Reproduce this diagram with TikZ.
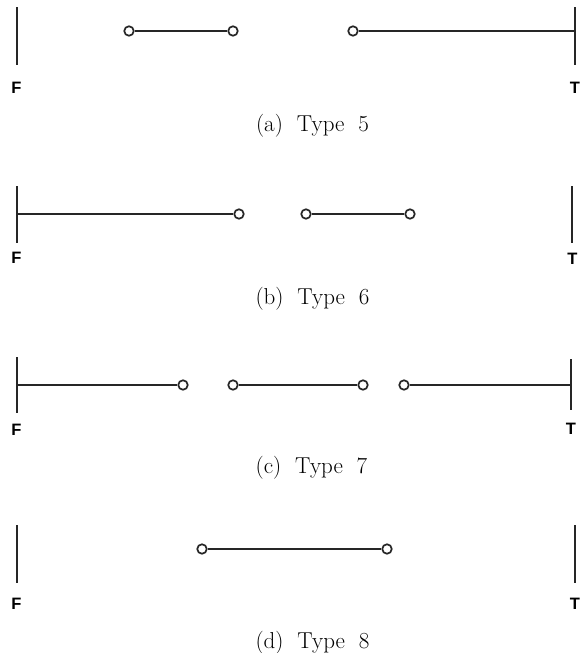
\documentclass[tikz,border=0pt]{standalone}
\usepackage{fontspec}
\newfontfamily\labfont{Liberation Sans}
\begin{document}
\begin{tikzpicture}[x=1pt,y=-1pt,
  seg/.style={line width=1.9pt,draw=black!85},
  bar/.style={line width=1.9pt,draw=black!85},
  hole/.style={circle,draw=black!85,fill=white,line width=1.7pt,inner sep=0pt,minimum size=9.5pt},
  endlab/.style={font=\labfont\bfseries\fontsize{16.5}{16.5}\selectfont,inner sep=0pt},
  captext/.style={font=\fontsize{23}{25}\selectfont,anchor=base,inner sep=0pt}]
\useasboundingbox (0,0) rectangle (583,653);
% (a) Type 5
\coordinate (aF1) at (17,7); \coordinate (aF2) at (17,65);
\coordinate (aT1) at (575,7); \coordinate (aT2) at (575,65);
\coordinate (aTm) at (575,31);
\draw[bar] (aF1) -- (aF2);
\draw[bar] (aT1) -- (aT2);
\node[hole] (a1) at (129,31) {};
\node[hole] (a2) at (233,31) {};
\node[hole] (a3) at (353,31) {};
\draw[seg] (a1) -- (a2);
\draw[seg] (a3) -- (aTm);
\node[endlab] (aF) at (16.5,87.5) {F};
\node[endlab] (aT) at (575,87.5) {T};
\node[captext] (acap) at (312.5,131) {(a)\ \ Type\ \ 5};
% (b) Type 6
\coordinate (bF1) at (17,186); \coordinate (bF2) at (17,243);
\coordinate (bFm) at (17,214);
\coordinate (bT1) at (572,186); \coordinate (bT2) at (572,243);
\draw[bar] (bF1) -- (bF2);
\draw[bar] (bT1) -- (bT2);
\node[hole] (b1) at (239,214) {};
\node[hole] (b2) at (306,214) {};
\node[hole] (b3) at (410,214) {};
\draw[seg] (bFm) -- (b1);
\draw[seg] (b2) -- (b3);
\node[endlab] (bF) at (16.5,258) {F};
\node[endlab] (bT) at (572.5,259) {T};
\node[captext] (bcap) at (312.5,304) {(b)\ \ Type\ \ 6};
% (c) Type 7
\coordinate (cF1) at (17,357); \coordinate (cF2) at (17,413);
\coordinate (cFm) at (17,385);
\coordinate (cT1) at (571,359); \coordinate (cT2) at (571,410);
\coordinate (cTm) at (571,385);
\draw[bar] (cF1) -- (cF2);
\draw[bar] (cT1) -- (cT2);
\node[hole] (c1) at (183,385) {};
\node[hole] (c2) at (233,385) {};
\node[hole] (c3) at (363,385) {};
\node[hole] (c4) at (404,385) {};
\draw[seg] (cFm) -- (c1);
\draw[seg] (c2) -- (c3);
\draw[seg] (c4) -- (cTm);
\node[endlab] (cF) at (16.5,429.5) {F};
\node[endlab] (cT) at (571,428.5) {T};
\node[captext] (ccap) at (311.5,473) {(c)\ \ Type\ \ 7};
% (d) Type 8
\coordinate (dF1) at (17,525); \coordinate (dF2) at (17,583);
\coordinate (dT1) at (575,525); \coordinate (dT2) at (575,583);
\draw[bar] (dF1) -- (dF2);
\draw[bar] (dT1) -- (dT2);
\node[hole] (d1) at (202,549) {};
\node[hole] (d2) at (387,549) {};
\draw[seg] (d1) -- (d2);
\node[endlab] (dF) at (16.5,603.5) {F};
\node[endlab] (dT) at (575,603.5) {T};
\node[captext] (dcap) at (312.5,648) {(d)\ \ Type\ \ 8};
\end{tikzpicture}
\end{document}
